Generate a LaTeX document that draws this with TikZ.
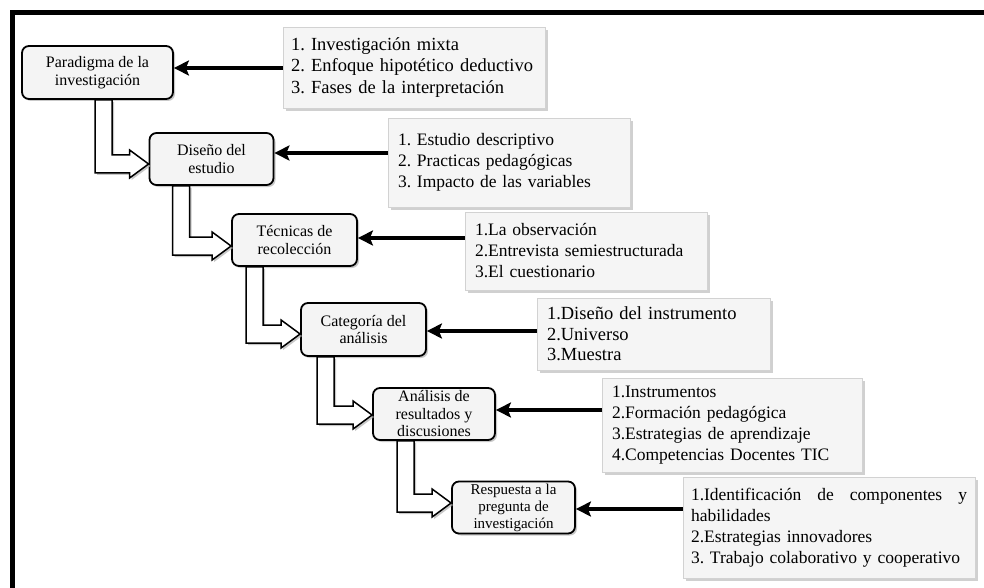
\documentclass[tikz,border=0pt]{standalone}
\usepackage{fontspec}
\setmainfont{Liberation Serif}
\usetikzlibrary{arrows.meta,shadows,calc}
\newcommand\stagearrow[4]{%
 \coordinate (s0) at ($(#1.south west)+(#3,0)$);
 \coordinate (s1) at ($(s0)+(17,0)$);
 \coordinate (tp) at ($(#2.west)+(0,#4)$);
 \coordinate (up) at ($(tp)+(-19,-9)$);
 \coordinate (dn) at ($(tp)+(-19,9)$);
 \coordinate (hu) at ($(tp)+(-19,-14)$);
 \coordinate (hd) at ($(tp)+(-19,14)$);
 \draw[bent] (s0) -- (s1) -- (s1 |- up) -- (up) -- (hu) -- (tp) -- (hd) -- (dn) -- (s0 |- dn) -- cycle;}
\frenchspacing
\begin{document}
\begin{tikzpicture}[x=1pt,y=-1pt,
  stage/.style={draw=black, line width=1.8pt, rounded corners=7pt, fill=gray!9, align=center,
    font=\fontsize{16}{17.5}\selectfont, inner sep=1pt,
    drop shadow={shadow xshift=2pt,shadow yshift=-2pt,fill=gray!70,opacity=0.6}},
  listbox/.style={draw=gray!35, line width=0.6pt, fill=gray!8, align=left,
    font=\fontsize{17.5}{21}\selectfont, inner xsep=10pt, inner ysep=2pt,
    drop shadow={shadow xshift=3pt,shadow yshift=-3pt,fill=gray!60,opacity=0.6}},
  harrow/.style={line width=4pt, -{Stealth[length=15pt,width=15pt,inset=3pt]}},
  bent/.style={draw=black, line width=1.5pt, fill=white, line join=miter,
    drop shadow={shadow xshift=2pt,shadow yshift=-2pt,fill=gray!60,opacity=0.7}}
]
\fill[white] (0,0) rectangle (984,588);
\useasboundingbox (0,0) rectangle (984,588);
\draw[line width=5pt] (12.5,588) -- (12.5,12.5) -- (984,12.5);

% stages
\node[stage, minimum width=151pt, minimum height=53pt] (n1) at (97.5,72.5) {Paradigma de la\\investigación};
\node[stage, minimum width=124pt, minimum height=52pt] (n2) at (211.5,159) {Diseño del\\estudio};
\node[stage, minimum width=125pt, minimum height=52pt] (n3) at (294.5,240) {Técnicas de\\recolección};
\node[stage, minimum width=125pt, minimum height=53pt] (n4) at (363.5,329.5) {Categoría del\\análisis};
\node[stage, minimum width=122pt, minimum height=52pt] (n5) at (434,414) {Análisis de\\resultados y\\discusiones};
\node[stage, minimum width=123pt, minimum height=52pt, font=\fontsize{15}{17}\selectfont] (n6) at (513.5,507.5) {Respuesta a la\\pregunta de\\investigación};

% lists
\node[listbox, minimum height=81pt, inner xsep=8pt, text width=246pt, font=\fontsize{18.5}{21.5}\selectfont] (l1) at (414,67.5)
  {1. Investigación mixta\\2. Enfoque hipotético deductivo\\3. Fases de la interpretación};
\node[listbox, minimum height=89pt, text width=222pt] (l2) at (509,162.5)
  {1. Estudio descriptivo\\2. Practicas pedagógicas\\3. Impacto de las variables};
\node[listbox, minimum height=78pt, text width=222pt] (l3) at (586,251)
  {1.La observación\\2.Entrevista semiestructurada\\3.El cuestionario};
\node[listbox, minimum height=72pt, text width=213pt, font=\fontsize{18.5}{20.5}\selectfont] (l4) at (653.5,334)
  {1.Diseño del instrumento\\2.Universo\\3.Muestra};
\node[listbox, minimum height=94pt, text width=240pt] (l5) at (732,425)
  {1.Instrumentos\\2.Formación pedagógica\\3.Estrategias de aprendizaje\\4.Competencias Docentes TIC};
\node[listbox, inner xsep=8pt, minimum height=101pt, text width=276pt] (l6) at (829,527.5)
  {\hbox to 276pt{1.Identificación\hfill de\hfill componentes\hfill y}\\habilidades\\2.Estrategias innovadores\\3. Trabajo colaborativo y cooperativo};

% horizontal arrows
\coordinate (a1) at (0,68);
\coordinate (a2) at (0,153);
\coordinate (a3) at (0,238);
\coordinate (a4) at (0,331);
\coordinate (a5) at (0,410);
\coordinate (a6) at (0,509);
\draw[harrow] (l1.west |- a1) -- (n1.east |- a1);
\draw[harrow] (l2.west |- a2) -- (n2.east |- a2);
\draw[harrow] (l3.west |- a3) -- (n3.east |- a3);
\draw[harrow] (l4.west |- a4) -- (n4.east |- a4);
\draw[harrow] (l5.west |- a5) -- (n5.east |- a5);
\draw[harrow] (l6.west |- a6) -- (n6.east |- a6);

% bent block arrows
\stagearrow{n1}{n2}{74}{5}
\stagearrow{n2}{n3}{24}{6}
\stagearrow{n3}{n4}{15}{4.5}
\stagearrow{n4}{n5}{17}{1}
\stagearrow{n5}{n6}{25}{-4.5}
\end{tikzpicture}
\end{document}
